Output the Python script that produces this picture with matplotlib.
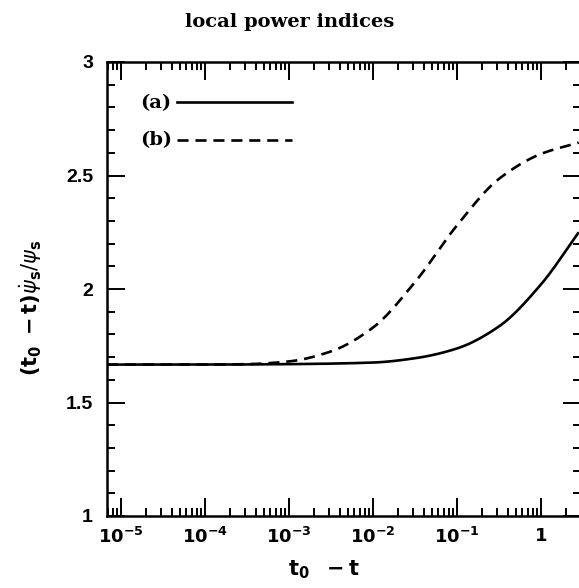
import matplotlib
matplotlib.use("Agg")
import matplotlib.pyplot as plt
import matplotlib.ticker as mticker
import numpy as np

# data (x = t0 - t, y = local power index)
x_a = [6.8e-6, 1e-4, 1e-3, 1e-2, 3.16e-2, 0.1, 0.316, 1.0, 2.82]
y_a = [1.667, 1.667, 1.669, 1.676, 1.695, 1.738, 1.835, 2.02, 2.25]

x_b = [6.8e-6, 1e-4, 3.16e-4, 1e-3, 3.16e-3, 1e-2, 3.16e-2, 0.1, 0.316, 1.0, 2.82]
y_b = [1.667, 1.667, 1.669, 1.681, 1.725, 1.83, 2.03, 2.28, 2.485, 2.595, 2.645]

legend_labels = ["(a)", "(b)"]
xtick_vals = [1e-5, 1e-4, 1e-3, 1e-2, 1e-1, 1]
xtick_labels = [r"$\mathbf{10^{-5}}$", r"$\mathbf{10^{-4}}$", r"$\mathbf{10^{-3}}$",
                r"$\mathbf{10^{-2}}$", r"$\mathbf{10^{-1}}$", r"$\mathbf{1}$"]
ytick_vals = [1, 1.5, 2, 2.5, 3]
ytick_labels = ["1", "1.5", "2", "2.5", "3"]

plt.rcParams['mathtext.fontset'] = 'dejavusans'

W, H = 579, 588
fig = plt.figure(figsize=(W / 100, H / 100), dpi=100)
L, R, T, B = 107, 581, 62, 516
ax = fig.add_axes([L / W, 1 - B / H, (R - L) / W, (B - T) / H])


def smooth(xs, ys):
    """Monotone cubic interpolation in log10(x)."""
    lx = np.log10(xs)
    ys = np.asarray(ys, float)
    g = np.linspace(lx[0], lx[-1], 500)
    h = np.diff(lx)
    d = np.diff(ys) / h
    m = np.zeros(len(lx))
    m[0], m[-1] = d[0], d[-1]
    for i in range(1, len(lx) - 1):
        if d[i - 1] * d[i] <= 0:
            m[i] = 0
        else:
            w1 = 2 * h[i] + h[i - 1]
            w2 = h[i] + 2 * h[i - 1]
            m[i] = (w1 + w2) / (w1 / d[i - 1] + w2 / d[i])
    out = np.empty_like(g)
    for j, xv in enumerate(g):
        k = int(np.clip(np.searchsorted(lx, xv, side='right') - 1, 0, len(lx) - 2))
        t = (xv - lx[k]) / h[k]
        h00 = 2 * t**3 - 3 * t**2 + 1
        h10 = t**3 - 2 * t**2 + t
        h01 = -2 * t**3 + 3 * t**2
        h11 = t**3 - t**2
        out[j] = h00 * ys[k] + h10 * h[k] * m[k] + h01 * ys[k + 1] + h11 * h[k] * m[k + 1]
    return 10**g, out


xa, ya = smooth(x_a, y_a)
xb, yb = smooth(x_b, y_b)
ax.plot(xa, ya, color='black', lw=1.9, solid_capstyle='butt')
ax.plot(xb, yb, color='black', lw=1.9, dashes=(4.2, 2.6))

ax.set_xscale('log')
ax.set_xlim(10**(-5 - 14 / 84), 3.0)
ax.set_ylim(1, 3)

ax.set_xticks(xtick_vals)
ax.set_xticklabels(xtick_labels, fontsize=13)
ax.xaxis.set_minor_locator(mticker.LogLocator(base=10, subs=np.arange(2, 10), numticks=20))
ax.xaxis.set_minor_formatter(mticker.NullFormatter())
ax.set_yticks(ytick_vals)
ax.set_yticklabels(ytick_labels, fontsize=14, fontweight='bold', family='Liberation Sans')
ax.yaxis.set_minor_locator(mticker.MultipleLocator(0.1))

ax.tick_params(which='both', direction='in', top=True, right=True, width=1.4, color='black')
ax.tick_params(which='major', length=13)
ax.tick_params(which='minor', length=6)
ax.tick_params(axis='x', pad=8)
ax.tick_params(axis='y', pad=10)
for s in ax.spines.values():
    s.set_linewidth(1.8)

# legend drawn as text + line segments
ax.text(140 / W, 1 - 103 / H, legend_labels[0], transform=fig.transFigure, fontsize=14,
        fontweight='bold', family='DejaVu Serif', va='center', ha='left')
ax.text(140 / W, 1 - 140 / H, legend_labels[1], transform=fig.transFigure, fontsize=14,
        fontweight='bold', family='DejaVu Serif', va='center', ha='left')
fig.add_artist(plt.Line2D([177 / W, 292 / W], [1 - 102 / H, 1 - 102 / H], color='black', lw=1.9))
fig.add_artist(plt.Line2D([177 / W, 292 / W], [1 - 140 / H, 1 - 140 / H], color='black', lw=1.9,
                          dashes=(4.2, 2.6)))

fig.text(0.5, 1 - 22 / H, "local power indices", ha='center', va='center', fontsize=14,
         fontweight='bold', family='DejaVu Serif')
fig.text(324 / W, 1 - 570 / H, r"$\mathbf{t_0\ \ -t}$", ha='center', va='center', fontsize=15)
fig.text(31 / W, 1 - 308 / H, r"$\mathbf{(t_0\ -t)}\dot{\psi}_\mathbf{s}/\psi_\mathbf{s}$",
         ha='center', va='center', rotation=90, fontsize=15)

fig.savefig("out.png", dpi=100)
